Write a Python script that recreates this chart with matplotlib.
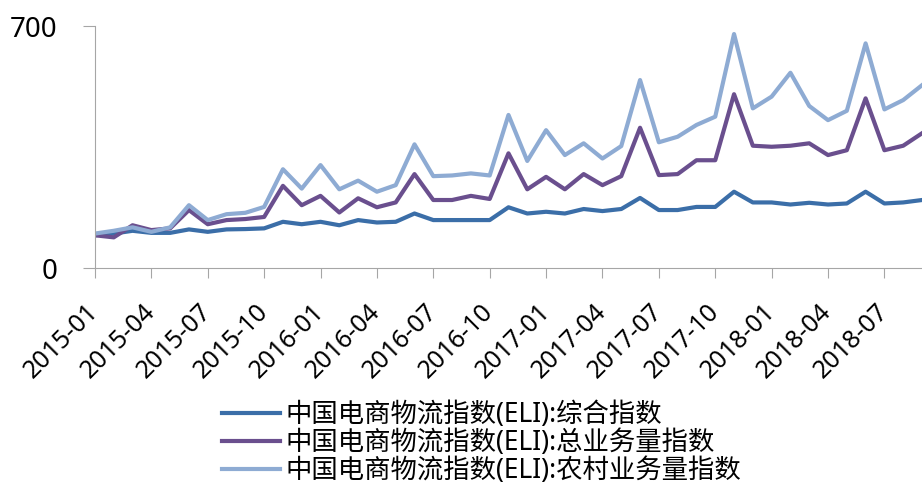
import numpy as np
import pandas as pd
import matplotlib.pyplot as plt
import matplotlib.transforms as mtransforms

plt.rcParams['font.family'] = ['Noto Sans', 'Noto Sans CJK SC', 'DejaVu Sans']

months = pd.date_range('2015-01', periods=45, freq='MS')

eli_total = [95, 100, 108, 102, 102, 112, 105, 112, 113, 115,
             134, 127, 134, 124, 139, 132, 134, 158, 139, 139,
             139, 139, 176, 158, 163, 158, 171, 165, 171, 203,
             168, 168, 177, 177, 221, 190, 190, 184, 189, 184,
             187, 221, 187, 190, 197]
eli_business = [95, 89, 124, 110, 115, 168, 127, 139, 142, 148,
                238, 182, 209, 161, 202, 176, 190, 272, 197, 197,
                209, 200, 332, 228, 264, 228, 272, 240, 266, 406,
                269, 272, 312, 312, 503, 354, 351, 354, 361, 327,
                341, 491, 341, 354, 390]
eli_rural = [100, 108, 118, 105, 118, 182, 139, 156, 160, 177,
             286, 230, 298, 228, 253, 221, 240, 358, 266, 268,
             274, 268, 443, 310, 399, 327, 361, 317, 353, 544,
             364, 380, 414, 438, 677, 462, 496, 565, 469, 428,
             455, 650, 459, 486, 529]

labels = ['中国电商物流指数(ELI):综合指数',
          '中国电商物流指数(ELI):总业务量指数',
          '中国电商物流指数(ELI):农村业务量指数']
colors = ['#3b6ea8', '#6a4f8e', '#8eabd3']

x = np.arange(len(months))

fig = plt.figure(figsize=(9.22, 4.92), dpi=100)
ax = fig.add_axes([0.103, 0.455, 0.897, 0.492])

for series, lab, col in zip([eli_total, eli_business, eli_rural], labels, colors):
    ax.plot(x, series, color=col, lw=3, label=lab)

ax.set_xlim(0, 44)
ax.set_ylim(0, 700)
ax.set_yticks([0, 700])
ax.set_xticks(x[::3])
ax.set_xticklabels([m.strftime('%Y-%m') for m in months[::3]],
                   rotation=45, ha='right', va='center',
                   rotation_mode='anchor', fontsize=18)
# nudge the rotated labels so their ends sit under the ticks
shift = mtransforms.ScaledTranslation(6 / 100, 0, fig.dpi_scale_trans)
for t in ax.get_xticklabels():
    t.set_transform(t.get_transform() + shift)

ax.tick_params(axis='y', labelsize=20, length=9, pad=18, color='#a6a6a6')
ax.tick_params(axis='x', length=7, pad=22, color='#a6a6a6')

for side in ['top', 'right']:
    ax.spines[side].set_visible(False)
for side in ['left', 'bottom']:
    ax.spines[side].set_color('#a6a6a6')

ax.legend(loc='upper left', bbox_to_anchor=(222 / 922, 1 - 401 / 492),
          bbox_transform=fig.transFigure, frameon=False,
          fontsize=19, handlelength=2.2, handletextpad=0.2,
          labelspacing=0.0, borderpad=0, borderaxespad=0)

fig.savefig('out.png', dpi=100)
